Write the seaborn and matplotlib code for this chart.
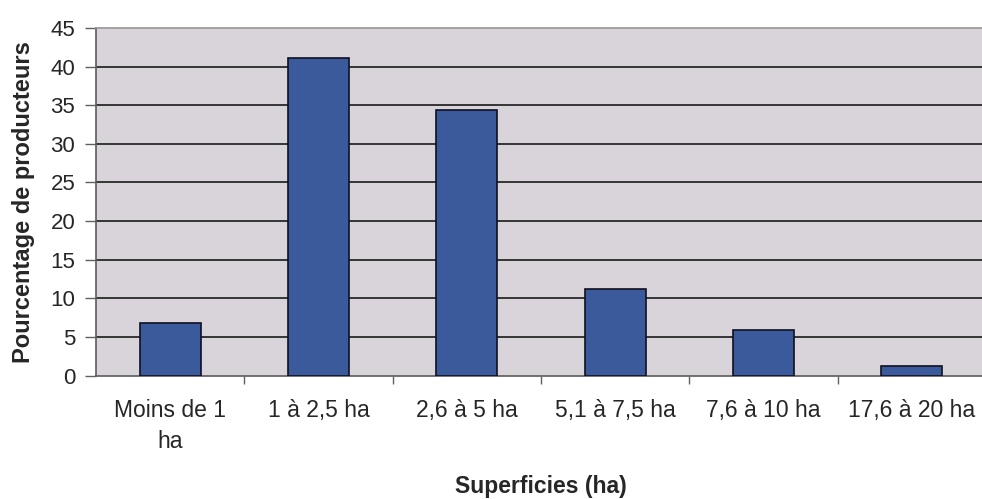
import matplotlib
matplotlib.use("Agg")
import matplotlib.pyplot as plt
import numpy as np
import pandas as pd
import seaborn as sns

categories = ["Moins de 1\nha", "1 à 2,5 ha", "2,6 à 5 ha", "5,1 à 7,5 ha",
              "7,6 à 10 ha", "17,6 à 20 ha"]
values = [6.8, 41.1, 34.4, 11.2, 5.9, 1.2]

df = pd.DataFrame({"Superficies": categories, "Pourcentage": values})

sns.set_theme(style="white")
plt.rcParams["font.family"] = ["Liberation Sans", "DejaVu Sans"]

fig = plt.figure(figsize=(9.82, 4.99), dpi=100)
ax = fig.add_axes([96 / 982, 1 - 375.5 / 499, 890 / 982, 347.5 / 499])
ax.set_facecolor("#d9d4d9")

sns.barplot(data=df, x="Superficies", y="Pourcentage", color="#3b5a9c",
            width=0.41, edgecolor="#101020", linewidth=1.2, saturation=1,
            ax=ax, zorder=3)

ax.set_ylim(0, 45)
ax.set_xlim(-0.5, len(categories) - 0.5)
ax.set_yticks(np.arange(0, 50, 5))
ax.yaxis.grid(True, color="#1a1a1a", linewidth=1.2, zorder=0)
ax.set_axisbelow(True)
# the 0 and 45 lines are the plot frame, not grid lines
grid = ax.get_ygridlines()
grid[0].set_visible(False)
grid[-1].set_visible(False)

ax.spines["right"].set_visible(False)
ax.spines["top"].set_color("#9a9a9a")
ax.spines["left"].set_color("#606060")
ax.spines["bottom"].set_color("#606060")

ax.tick_params(axis="y", which="major", length=8, width=1, color="#606060",
               direction="out", labelsize=16, pad=7, left=True)
ax.tick_params(axis="x", which="major", length=0, labelsize=16.5, pad=17)
ax.set_xticks(np.arange(len(categories) - 1) + 0.5, minor=True)
ax.tick_params(axis="x", which="minor", length=6, width=1, color="#606060",
               direction="out", bottom=True)
for lbl in ax.get_xticklabels():
    lbl.set_linespacing(1.45)

ax.set_ylabel("Pourcentage de producteurs", fontsize=17, fontweight="bold",
              labelpad=11)
ax.set_xlabel("Superficies (ha)", fontsize=16.5, fontweight="bold", labelpad=16)

fig.savefig("out.png", dpi=100)
